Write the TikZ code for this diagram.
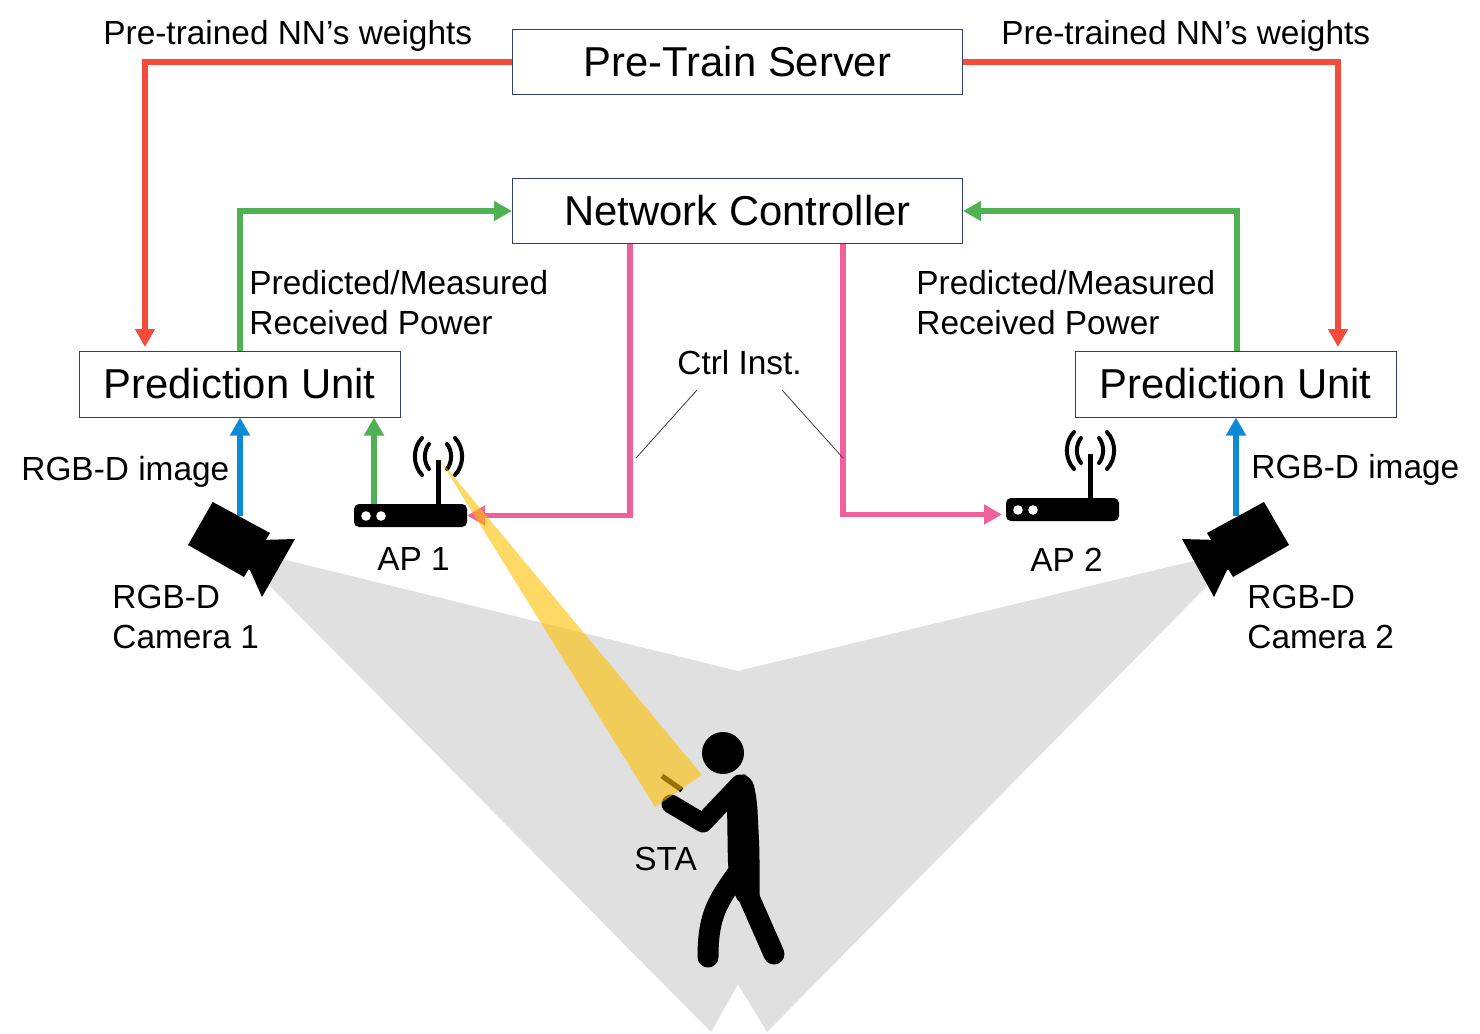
\documentclass[tikz,border=0pt]{standalone}
\usepackage{fontspec}
\setmainfont{Liberation Sans}
\usetikzlibrary{arrows.meta,calc}
\definecolor{cRed}{HTML}{F44B3A}
\definecolor{cGreen}{HTML}{4FB054}
\definecolor{cBlue}{HTML}{0C8AD6}
\definecolor{cPink}{HTML}{F0609A}
\definecolor{cNavy}{HTML}{2F3F70}
\definecolor{cGray}{HTML}{E0E0E0}
\definecolor{cGold}{HTML}{FFC000}
\tikzset{
  box/.style={draw=cNavy,line width=0.5pt,fill=white,inner sep=0pt,minimum width=225pt,minimum height=32.5pt,font=\fontsize{20.9}{24}\selectfont},
  pubox/.style={box,minimum width=160.5pt,minimum height=33pt},
  lab/.style={anchor=base west,inner sep=0pt,font=\fontsize{16.7}{20}\selectfont,text=black},
  conn/.style={line width=2.8pt,-{Triangle[length=9pt,width=9.5pt]}},
  thin link/.style={line width=0.4pt,draw=black!75},
  wave/.style={line width=2pt,line cap=round,draw=black},
}
\newcommand{\routerglyph}{%
  \draw[line width=2.5pt] (438,505) -- (438,460);
  \fill[black,rounded corners=2.5pt] (354,504) rectangle (467,527);
  \fill[white] (366,516) circle (2.4pt) (381,516) circle (2.4pt);
  \draw[wave] (429,444) .. controls (423.5,451) and (423.5,462) .. (429,469);
  \draw[wave] (422,438) .. controls (412.5,448) and (412.5,465) .. (422,475);
  \draw[wave] (447,444) .. controls (452.5,451) and (452.5,462) .. (447,469);
  \draw[wave] (455,438) .. controls (464.5,448) and (464.5,465) .. (455,475);
}
\begin{document}
\begin{tikzpicture}[x=0.5pt,y=-0.5pt]
\useasboundingbox (0,0) rectangle (1480,1034);
\fill[white] (0,0) rectangle (1480,1034);
% fields of view
\fill[cGray] (270,556) -- (738,671) -- (1214,556) -- (1205,588) -- (767,1032) -- (738,984) -- (711,1032) -- (270,586) -- cycle;
% boxes
\node[box] (server) at (737.5,62) {Pre-Train Server};
\node[box] (ctrl) at (737.5,211) {Network Controller};
\node[pubox] (pu1) at (239.5,384) {Prediction Unit};
\node[pubox] (pu2) at (1235.5,384) {Prediction Unit};
% free ends
\coordinate (r1) at (145,351);
\coordinate (r2) at (1338,351);
\coordinate (g1) at (240,351);
\coordinate (g2) at (1237,351);
\coordinate (cam1) at (240,516);
\coordinate (cam2) at (1236,516);
\coordinate (ap1g) at (374,505);
\coordinate (ap1p) at (467,515.5);
\coordinate (ap2p) at (1002,514.5);
\coordinate (p1) at (630,244);
\coordinate (p2) at (843,244);
\coordinate (t1a) at (697,390);
\coordinate (t1b) at (636,458);
\coordinate (t2a) at (782,390);
\coordinate (t2b) at (843,458);
% connectors
\draw[conn,cRed] (server.west) -| ($(r1)+(0,-4)$);
\draw[conn,cRed] (server.east) -| ($(r2)+(0,-4)$);
\draw[conn,cGreen] (g1) |- (ctrl.west);
\draw[conn,cGreen] (g2) |- (ctrl.east);
\draw[conn,cBlue] (cam1) -- (cam1 |- pu1.south);
\draw[conn,cBlue] (cam2) -- (cam2 |- pu2.south);
\draw[conn,cGreen] (ap1g) -- (ap1g |- pu1.south);
\draw[conn,cPink] (p1) |- (ap1p);
\draw[conn,cPink] (p2) |- (ap2p);
\draw[thin link] (t1a) -- (t1b);
\draw[thin link] (t2a) -- (t2b);
% routers
\routerglyph
\begin{scope}[shift={(652,-6)}]
\routerglyph
\end{scope}
% cameras
\fill[black] (212.7,502) -- (270,533) -- (244,577) -- (188,545) -- cycle;
\fill[black] (262,540) -- (295,539) -- (262,597) -- (250,570) -- (240,565) -- cycle;
\fill[black] (1264,502) -- (1289,545) -- (1233,577) -- (1207,533) -- cycle;
\fill[black] (1218,540) -- (1182,539) -- (1214,597) -- (1227,570) -- (1240,565) -- cycle;
% person
\fill[black] (723,753) circle (10.5pt);
\fill[black,rounded corners=5pt] (727,802) -- (737,773) -- (752,776) -- (757,800) -- (759.5,850) -- (759.5,905) -- (738,905) -- (728,870) -- cycle;
\draw[black,line width=9.5pt,line cap=round,line join=round] (671,804) -- (703,823) -- (740,784);
\draw[black,line width=10.5pt,line cap=round,line join=round] (737,874) .. controls (718,901) and (708,915) .. (708,957);
\draw[black,line width=10.5pt,line cap=round,line join=round] (748,895) -- (774,954);
\draw[black,line width=2.6pt] (662,776) -- (682,790);
% beam
\fill[cGold,opacity=0.6] (440,460) -- (702,775) -- (655,807) -- cycle;
% labels
\node[lab] (l1) at (103,44) {Pre-trained NN’s weights};
\node[lab] (l2) at (1001,44) {Pre-trained NN’s weights};
\node[lab] (l3) at (249,294) {Predicted/Measured};
\node[lab] (l4) at (249,334) {Received Power};
\node[lab] (l5) at (916,294) {Predicted/Measured};
\node[lab] (l6) at (916,334) {Received Power};
\node[lab] (l7) at (677,374) {Ctrl Inst.};
\node[lab] (l8) at (21,480) {RGB-D image};
\node[lab] (l9) at (1251,478) {RGB-D image};
\node[lab] (l10) at (377,570) {AP 1};
\node[lab] (l11) at (1030,571) {AP 2};
\node[lab] (l12) at (112,608) {RGB-D};
\node[lab] (l13) at (112,648) {Camera 1};
\node[lab] (l14) at (1247,608) {RGB-D};
\node[lab] (l15) at (1247,648) {Camera 2};
\node[lab] (l16) at (634,870) {STA};
\end{tikzpicture}
\end{document}
